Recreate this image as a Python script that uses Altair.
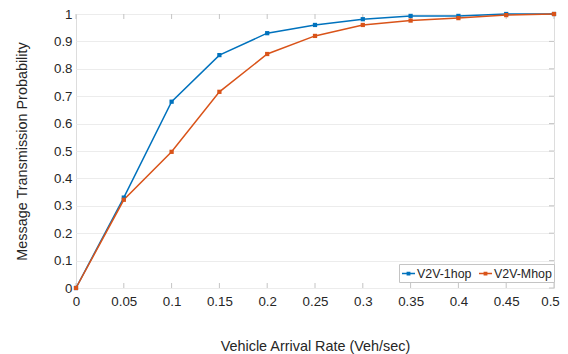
import altair as alt
import pandas as pd

rate = [0, 0.05, 0.1, 0.15, 0.2, 0.25, 0.3, 0.35, 0.4, 0.45, 0.5]
one_hop = [0, 0.33, 0.68, 0.85, 0.93, 0.96, 0.981, 0.993, 0.993, 1.0, 1.0]
multi_hop = [0, 0.322, 0.497, 0.716, 0.854, 0.92, 0.96, 0.976, 0.985, 0.996, 1.0]
series = ["V2V-1hop", "V2V-Mhop"]
colors = ["#0072BD", "#D95319"]
x_ticks = [0, 0.05, 0.1, 0.15, 0.2, 0.25, 0.3, 0.35, 0.4, 0.45, 0.5]
y_ticks = [0, 0.1, 0.2, 0.3, 0.4, 0.5, 0.6, 0.7, 0.8, 0.9, 1.0]

rows = []
for r, a, b in zip(rate, one_hop, multi_hop):
    rows.append({"rate": r, "prob": a, "series": series[0]})
    rows.append({"rate": r, "prob": b, "series": series[1]})
df = pd.DataFrame(rows)
xt = pd.DataFrame({"rate": x_ticks})
yt = pd.DataFrame({"prob": y_ticks})

W, H = 478, 274
FONT = "Liberation Sans"
GRAY = "#c4c4c4"
TXT = "#262626"

xenc = alt.X(
    "rate:Q",
    scale=alt.Scale(domain=[0, 0.5], nice=False),
    axis=alt.Axis(
        values=x_ticks, format="~g", title="Vehicle Arrival Rate (Veh/sec)",
        grid=False, ticks=False, domain=False, labelPadding=6,
        labelFlush=False, labelOverlap=False,
        labelOffset={"condition": {"test": "datum.value >= 0.5", "value": -4}, "value": 0},
        titlePadding=32, labelFontSize=13.3, titleFontSize=14.4,
        labelColor=TXT, titleColor=TXT, titleFontWeight="normal",
        labelFont=FONT, titleFont=FONT,
    ),
)
yenc = alt.Y(
    "prob:Q",
    scale=alt.Scale(domain=[0, 1], nice=False),
    axis=alt.Axis(
        values=y_ticks, format="~g", title="Message Transmission Probability",
        grid=True, gridColor="#ececec", ticks=False, domain=False,
        labelFlush=False, labelOverlap=False,
        labelPadding=4, titlePadding=24, labelFontSize=13.3, titleFontSize=14.4,
        labelColor=TXT, titleColor=TXT, titleFontWeight="normal",
        labelFont=FONT, titleFont=FONT,
    ),
)
cenc = alt.Color(
    "series:N",
    scale=alt.Scale(domain=series, range=colors),
    legend=alt.Legend(
        title=None, orient="none", legendX=323, legendY=250,
        direction="horizontal", strokeColor=GRAY, fillColor="white",
        padding=2, labelFontSize=12.4, labelFont=FONT, labelColor=TXT,
        symbolType="M-1,0H1M-0.18,-0.18H0.18V0.18H-0.18Z",
        symbolSize=170, symbolStrokeWidth=1.5, labelOffset=1,
        columnPadding=3,
    ),
)

lines = alt.Chart(df).mark_line(strokeWidth=1.5).encode(x=xenc, y=yenc, color=cenc)
pts = alt.Chart(df).mark_square(size=18, opacity=1, filled=True).encode(
    x=xenc, y=yenc, color=cenc
)

tick_bottom = alt.Chart(xt).mark_rule(color=GRAY).encode(
    x=xenc, y=alt.value(H), y2=alt.value(H - 5)
)
tick_top = alt.Chart(xt).mark_rule(color=GRAY).encode(
    x=xenc, y=alt.value(0), y2=alt.value(5)
)
tick_right = alt.Chart(yt).mark_rule(color=GRAY).encode(
    y=yenc, x=alt.value(W), x2=alt.value(W - 5)
)

chart = (
    alt.layer(tick_bottom, tick_top, tick_right, lines, pts)
    .properties(
        width=W, height=H,
        autosize=alt.AutoSizeParams(type="none"),
        padding={"left": 68, "top": 6, "right": 6, "bottom": 66},
    )
    .configure_view(stroke=GRAY, strokeWidth=1)
    .configure(background="white")
)

chart.save("out.html", embed_options={"renderer": "svg", "actions": False})
